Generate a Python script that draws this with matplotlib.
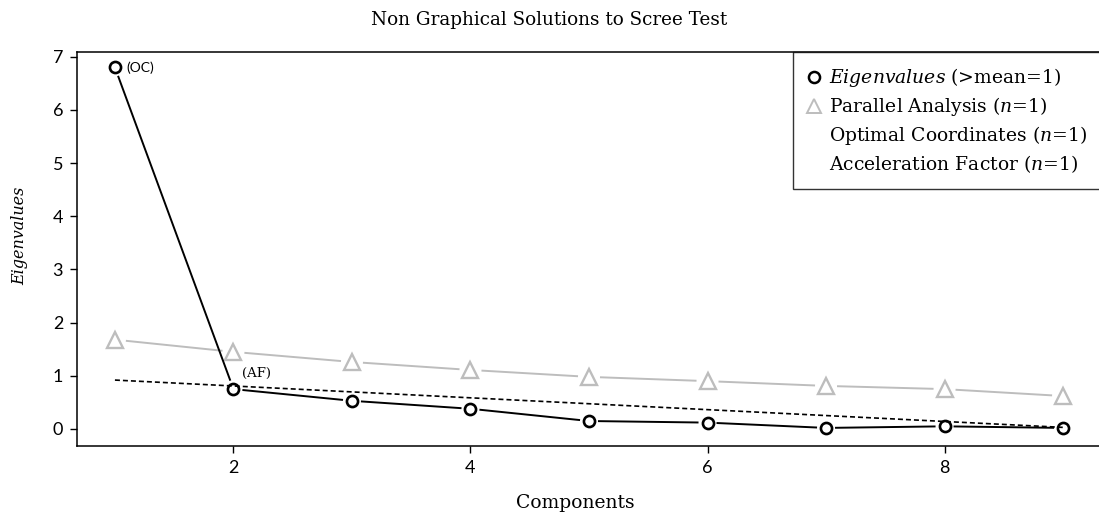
import matplotlib
matplotlib.use("Agg")
import matplotlib.pyplot as plt
from matplotlib.lines import Line2D
from matplotlib.collections import LineCollection
import numpy as np

# values
components = [1, 2, 3, 4, 5, 6, 7, 8, 9]
eigenvalues = [6.80, 0.75, 0.53, 0.38, 0.15, 0.12, 0.02, 0.05, 0.02]
parallel = [1.68, 1.45, 1.26, 1.11, 0.98, 0.90, 0.81, 0.75, 0.62]
oc_line_x = [1, 9]
oc_line_y = [0.92, 0.03]

legend_labels = [
    r"$\it{Eigenvalues}$ (>mean=1)",
    r"Parallel Analysis ($\it{n}$=1)",
    r"Optimal Coordinates ($\it{n}$=1)",
    r"Acceleration Factor ($\it{n}$=1)",
]

SERIF = "DejaVu Serif"
SANS = "Lato"
GRAY = "#bdbdbd"

plt.rcParams["mathtext.fontset"] = "custom"
plt.rcParams["mathtext.it"] = "DejaVu Serif:italic"
plt.rcParams["mathtext.rm"] = "DejaVu Serif"

fig = plt.figure(figsize=(10.99, 5.14), dpi=100)
ax = fig.add_axes([77 / 1099, 1 - 446 / 514, (1101 - 77) / 1099, (446 - 52) / 514])
ax.set_xlim(0.68, 9.32)
ax.set_ylim(-0.32, 7.09)


# Draw a polyline like R's type="b": segments stop short of the points
def gapped_line(x, y, gap, **kw):
    pts = ax.transData.transform(np.column_stack([x, y]))
    segs = []
    for a, b in zip(pts[:-1], pts[1:]):
        d = b - a
        n = np.hypot(*d)
        if n <= 2 * gap:
            continue
        u = d / n
        seg = np.array([a + u * gap, b - u * gap])
        segs.append(ax.transData.inverted().transform(seg))
    ax.add_collection(LineCollection(segs, **kw))


ax.plot(oc_line_x, oc_line_y, color="black", lw=1.2, ls=(0, (3, 1.8)), zorder=2)

gapped_line(components, parallel, 11, colors=GRAY, linewidths=1.4, zorder=3)
ax.plot(components, parallel, ls="none", marker="^", ms=11, mfc="none",
        mec=GRAY, mew=1.7, zorder=4)

gapped_line(components, eigenvalues, 9, colors="black", linewidths=1.4, zorder=5)
ax.plot(components, eigenvalues, ls="none", marker="o", ms=8, mfc="none",
        mec="black", mew=1.9, zorder=6)

ax.annotate("(OC)", (components[0], eigenvalues[0]), xytext=(8, 0),
            textcoords="offset points", ha="left", va="center",
            fontsize=10, family=SANS)
ax.annotate("(AF)", (components[1], eigenvalues[1]), xytext=(6, 11),
            textcoords="offset points", ha="left", va="center",
            fontsize=9.5, family=SERIF)

ax.set_yticks(range(0, 8))
ax.set_xticks([2, 4, 6, 8])
ax.tick_params(length=5, width=1, pad=5, labelsize=13)
for lab in ax.get_xticklabels() + ax.get_yticklabels():
    lab.set_family(SANS)
for sp in ax.spines.values():
    sp.set_linewidth(1.1)

fig.text(575 / 1099, 1 - 503 / 514, "Components", ha="center", va="center",
         fontsize=13.5, family=SERIF)
fig.text(20 / 1099, 1 - 236 / 514, "Eigenvalues", ha="center", va="center",
         rotation=90, fontsize=11.5, family=SERIF, style="italic")
fig.text(549 / 1099, 1 - 20 / 514, "Non Graphical Solutions to Scree Test",
         ha="center", va="center", fontsize=13.2, family=SERIF)

handles = [
    Line2D([], [], ls="none", marker="o", ms=8, mfc="none", mec="black", mew=1.8),
    Line2D([], [], ls="none", marker="^", ms=10, mfc="none", mec=GRAY, mew=1.4),
    Line2D([], [], ls="none"),
    Line2D([], [], ls="none"),
]
leg = ax.legend(handles, legend_labels, loc="upper left",
                bbox_to_anchor=(793 / 1099, 1 - 52 / 514), bbox_transform=fig.transFigure,
                prop={"family": SERIF, "size": 13.5}, frameon=True, fancybox=False,
                handlelength=0.7, handletextpad=0.45, borderpad=0.75, labelspacing=0.32,
                borderaxespad=0)
leg.get_frame().set_edgecolor("black")
leg.get_frame().set_linewidth(1.0)

fig.savefig("out.png", dpi=100)
